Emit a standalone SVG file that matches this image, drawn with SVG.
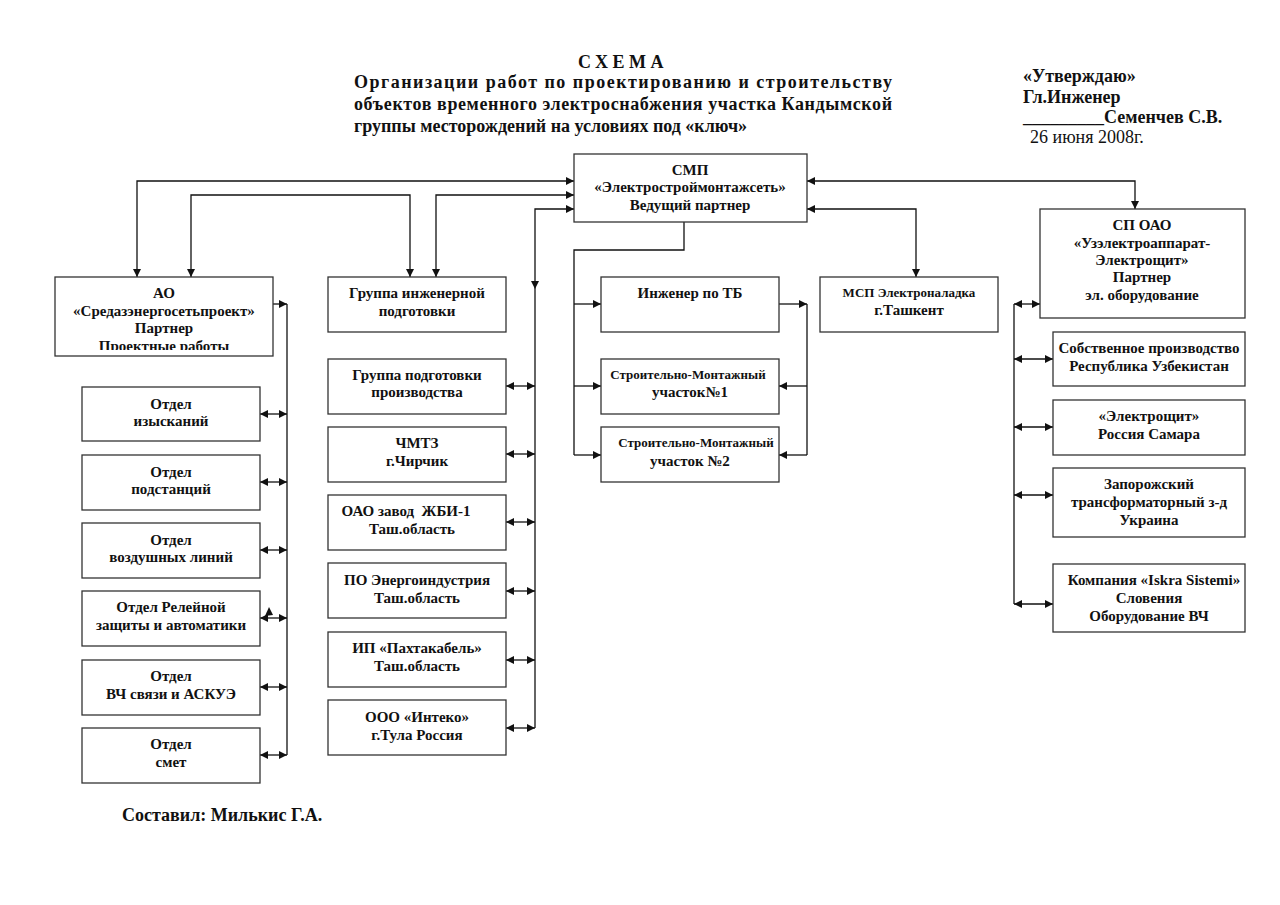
<svg xmlns="http://www.w3.org/2000/svg" width="1280" height="905" viewBox="0 0 1280 905">
<style>
text{font-family:"Liberation Serif","Times New Roman",serif;fill:#111}
.b{font-weight:bold;font-size:15px;text-anchor:middle}
.s{font-size:13px}
.t{font-weight:bold;font-size:18px}
.box{fill:#fff;stroke:#333;stroke-width:1.3}
.c{fill:none;stroke:#111;stroke-width:1.3}
.a2{marker-start:url(#ah);marker-end:url(#ah)}
.a1{marker-end:url(#ah)}
</style>
<defs>
<marker id="ah" viewBox="0 0 10 10" refX="10" refY="5" markerWidth="9" markerHeight="8" markerUnits="userSpaceOnUse" orient="auto-start-reverse"><path d="M0,0 L10,5 L0,10 z" fill="#111"/></marker>
<clipPath id="aoclip"><rect x="55" y="277" width="218" height="73"/></clipPath>
</defs>
<rect width="1280" height="905" fill="#fff"/>

<g id="title">
<text class="t" x="623" y="68" text-anchor="middle" letter-spacing="4.5">СХЕМА</text>
<text class="t" x="354" y="88" textLength="538" lengthAdjust="spacing">Организации работ по проектированию и строительству</text>
<text class="t" x="354" y="110" textLength="538" lengthAdjust="spacing">объектов временного электроснабжения участка Кандымской</text>
<text class="t" x="354" y="132">группы месторождений на условиях под «ключ»</text>
</g>
<g id="approve">
<text class="t" x="1023" y="82">«Утверждаю»</text>
<text class="t" x="1023" y="103">Гл.Инженер</text>
<text class="t" x="1023" y="123">_________Семенчев С.В.</text>
<text x="1030" y="143" font-size="18">26 июня 2008г.</text>
</g>
<g id="author"><text class="t" x="122" y="821">Составил: Милькис Г.А.</text></g>

<g id="connectors">
<path class="c a2" d="M574,181 H137 V277"/>
<path class="c a2" d="M191,277 V195 H410 V277"/>
<path class="c a2" d="M574,195 H436 V277"/>
<path class="c a2" d="M574,209 H535 V289"/>
<path class="c" d="M535,289 V728"/>
<path class="c a2" d="M506,386 H535"/>
<path class="c a2" d="M506,454 H535"/>
<path class="c a2" d="M506,522 H535"/>
<path class="c a2" d="M506,591 H535"/>
<path class="c a2" d="M506,660 H535"/>
<path class="c a2" d="M506,728 H535"/>
<path class="c a1" d="M273,304 H287"/>
<path class="c" d="M287,304 V755"/>
<path class="c a2" d="M260,414 H287"/>
<path class="c a2" d="M260,482 H287"/>
<path class="c a2" d="M260,550 H287"/>
<path class="c a2" d="M260,618 H287"/>
<path class="c a2" d="M260,687 H287"/>
<path class="c a2" d="M260,755 H287"/>
<polygon points="265,616 269,607 273,615" fill="#111"/>
<path class="c" d="M684,222 V250 H574 V455"/>
<path class="c a1" d="M574,304 H601"/>
<path class="c a1" d="M574,386 H601"/>
<path class="c a1" d="M574,455 H601"/>
<path class="c a1" d="M779,304 H807"/>
<path class="c" d="M807,304 V455"/>
<path class="c a1" d="M807,386 H779"/>
<path class="c a1" d="M807,455 H779"/>
<path class="c a2" d="M807,209 H916 V277"/>
<path class="c a2" d="M807,181 H1135 V209"/>
<path class="c" d="M1014,304 V604"/>
<path class="c a2" d="M1014,304 H1040"/>
<path class="c a2" d="M1014,359 H1053"/>
<path class="c a2" d="M1014,427 H1053"/>
<path class="c a2" d="M1014,495 H1053"/>
<path class="c a2" d="M1014,604 H1053"/>
</g>

<g id="smp"><rect class="box" x="574" y="154" width="233" height="68"/>
<text class="b" x="690" y="175">СМП</text><text class="b" x="690" y="192">«Электростроймонтажсеть»</text><text class="b" x="690" y="210">Ведущий партнер</text></g>

<g id="ao"><rect class="box" x="55" y="277" width="218" height="79"/>
<g clip-path="url(#aoclip)"><text class="b" x="164" y="298">АО</text><text class="b" x="164" y="316">«Средазэнергосетьпроект»</text><text class="b" x="164" y="333">Партнер</text><text class="b" x="164" y="351">Проектные работы</text></g></g>

<g id="otd1"><rect class="box" x="82" y="387" width="178" height="54"/><text class="b" x="171" y="409">Отдел</text><text class="b" x="171" y="426">изысканий</text></g>
<g id="otd2"><rect class="box" x="82" y="455" width="178" height="55"/><text class="b" x="171" y="477">Отдел</text><text class="b" x="171" y="494">подстанций</text></g>
<g id="otd3"><rect class="box" x="82" y="523" width="178" height="55"/><text class="b" x="171" y="545">Отдел</text><text class="b" x="171" y="562">воздушных линий</text></g>
<g id="otd4"><rect class="box" x="82" y="591" width="178" height="55"/><text class="b" x="171" y="612">Отдел Релейной</text><text class="b" x="171" y="630">защиты и автоматики</text></g>
<g id="otd5"><rect class="box" x="82" y="660" width="178" height="55"/><text class="b" x="171" y="681">Отдел</text><text class="b" x="171" y="699">ВЧ связи и АСКУЭ</text></g>
<g id="otd6"><rect class="box" x="82" y="728" width="178" height="55"/><text class="b" x="171" y="749">Отдел</text><text class="b" x="171" y="767">смет</text></g>

<g id="gip"><rect class="box" x="328" y="277" width="178" height="55"/><text class="b" x="417" y="298">Группа инженерной</text><text class="b" x="417" y="316">подготовки</text></g>
<g id="gpp"><rect class="box" x="328" y="359" width="178" height="55"/><text class="b" x="417" y="380">Группа подготовки</text><text class="b" x="417" y="397">производства</text></g>
<g id="chmtz"><rect class="box" x="328" y="427" width="178" height="55"/><text class="b" x="417" y="448">ЧМТЗ</text><text class="b" x="417" y="466">г.Чирчик</text></g>
<g id="zbi"><rect class="box" x="328" y="495" width="178" height="55"/><text class="b" x="406" y="516" xml:space="preserve">ОАО завод  ЖБИ-1</text><text class="b" x="412" y="534">Таш.область</text></g>
<g id="energo"><rect class="box" x="328" y="563" width="178" height="55"/><text class="b" x="417" y="585">ПО Энергоиндустрия</text><text class="b" x="417" y="603">Таш.область</text></g>
<g id="pakhta"><rect class="box" x="328" y="632" width="178" height="55"/><text class="b" x="417" y="653">ИП «Пахтакабель»</text><text class="b" x="417" y="671">Таш.область</text></g>
<g id="inteko"><rect class="box" x="328" y="700" width="178" height="55"/><text class="b" x="417" y="722">ООО «Интеко»</text><text class="b" x="417" y="740">г.Тула Россия</text></g>

<g id="tb"><rect class="box" x="601" y="277" width="178" height="55"/><text class="b" x="690" y="298">Инженер по ТБ</text></g>
<g id="smu1"><rect class="box" x="601" y="359" width="178" height="55"/><text class="b s" x="688" y="379">Строительно-Монтажный</text><text class="b" x="690" y="397">участок№1</text></g>
<g id="smu2"><rect class="box" x="601" y="427" width="178" height="55"/><text class="b s" x="696" y="447">Строительно-Монтажный</text><text class="b" x="690" y="466">участок №2</text></g>

<g id="msp"><rect class="box" x="820" y="277" width="178" height="55"/><text class="b s" x="909" y="297">МСП Электроналадка</text><text class="b" x="909" y="315">г.Ташкент</text></g>

<g id="spoao"><rect class="box" x="1040" y="209" width="205" height="109"/>
<text class="b" x="1142" y="230">СП ОАО</text><text class="b" x="1142" y="248">«Узэлектроаппарат-</text><text class="b" x="1142" y="265">Электрощит»</text><text class="b" x="1142" y="282">Партнер</text><text class="b" x="1142" y="300">эл. оборудование</text></g>

<g id="sobstv"><rect class="box" x="1053" y="332" width="192" height="54"/><text class="b" x="1149" y="353">Собственное производство</text><text class="b" x="1149" y="371">Республика Узбекистан</text></g>
<g id="eshch"><rect class="box" x="1053" y="400" width="192" height="55"/><text class="b" x="1149" y="421">«Электрощит»</text><text class="b" x="1149" y="439">Россия Самара</text></g>
<g id="zap"><rect class="box" x="1053" y="468" width="192" height="69"/><text class="b" x="1149" y="489">Запорожский</text><text class="b" x="1149" y="507">трансформаторный з-д</text><text class="b" x="1149" y="525">Украина</text></g>
<g id="iskra"><rect class="box" x="1053" y="564" width="192" height="68"/><text class="b" x="1154" y="585">Компания «Iskra Sistemi»</text><text class="b" x="1149" y="603">Словения</text><text class="b" x="1149" y="621">Оборудование ВЧ</text></g>
</svg>
